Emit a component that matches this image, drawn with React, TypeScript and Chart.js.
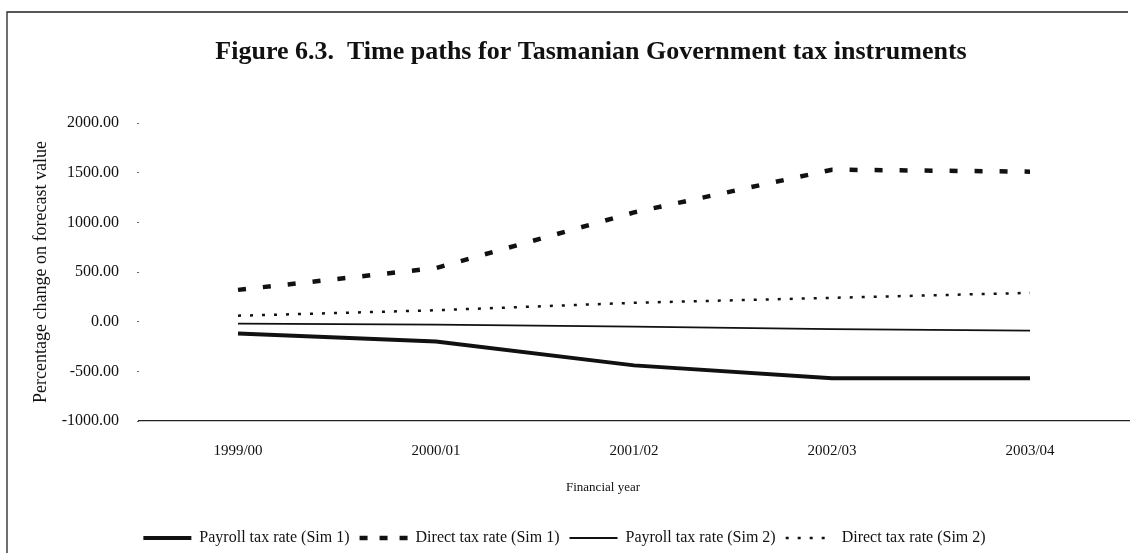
import React, { useEffect, useRef } from 'react';
import { Chart, registerables } from 'chart.js';

Chart.register(...registerables);

// Financial years on the x axis
const years = ['1999/00', '2000/01', '2001/02', '2002/03', '2003/04'];

// Percentage change on forecast value for each tax instrument
const payrollSim1 = [-120, -200, -440, -570, -570];
const directSim1 = [320, 540, 1100, 1530, 1510];
const payrollSim2 = [-20, -30, -50, -75, -90];
const directSim2 = [60, 115, 190, 240, 290];

// Series names shown in the legend
const seriesNames = [
  'Payroll tax rate (Sim 1)',
  'Direct tax rate (Sim 1)',
  'Payroll tax rate (Sim 2)',
  'Direct tax rate (Sim 2)',
];

const yMin = -1000;
const yMax = 2000;
const yStep = 500;

const titleText = 'Figure 6.3.  Time paths for Tasmanian Government tax instruments';
const yTitle = 'Percentage change on forecast value';
const xTitle = 'Financial year';

const SERIF = '"Liberation Serif", "Times New Roman", serif';
const INK = '#111';
const SAMPLE_W = 48;
// Shorter dash period for the short legend sample of the dashed series
const legendDash: Record<number, number[]> = { 1: [8, 12] };

// Page frame, heading and x-axis caption drawn straight onto the canvas
const frameAndHeading = {
  id: 'frameAndHeading',
  beforeDraw(chart: any) {
    const { ctx, width, height } = chart;
    ctx.save();
    ctx.fillStyle = '#fff';
    ctx.fillRect(0, 0, width, height);
    ctx.strokeStyle = '#222';
    ctx.lineWidth = 1.3;
    ctx.beginPath();
    ctx.moveTo(7, height);
    ctx.lineTo(7, 12);
    ctx.lineTo(1128, 12);
    ctx.stroke();
    ctx.fillStyle = INK;
    ctx.textAlign = 'center';
    ctx.textBaseline = 'middle';
    ctx.font = `bold 26px ${SERIF}`;
    ctx.fillText(titleText, 591, 52);
    ctx.font = `13px ${SERIF}`;
    ctx.fillText(xTitle, 603, 488);
    ctx.restore();
  },
};

// Legend line samples, drawn with each dataset's own stroke width and dash
const legendSamples = {
  id: 'legendSamples',
  afterDraw(chart: any) {
    const legend = chart.legend;
    if (!legend || !legend.legendHitBoxes) return;
    const { ctx } = chart;
    legend.legendHitBoxes.forEach((hb: any, i: number) => {
      const ds: any = chart.data.datasets[i];
      const y = hb.top + hb.height / 2;
      ctx.save();
      ctx.strokeStyle = ds.borderColor;
      ctx.lineWidth = ds.borderWidth;
      ctx.setLineDash(legendDash[i] || ds.borderDash || []);
      ctx.beginPath();
      ctx.moveTo(hb.left, y);
      ctx.lineTo(hb.left + SAMPLE_W, y);
      ctx.stroke();
      ctx.restore();
    });
  },
};

export default function App() {
  const canvasRef = useRef<HTMLCanvasElement>(null);

  useEffect(() => {
    const canvas = canvasRef.current;
    if (!canvas) return;
    const chart = new Chart(canvas, {
      type: 'line',
      data: {
        labels: years,
        datasets: [
          {
            label: seriesNames[0],
            data: payrollSim1,
            borderColor: INK,
            backgroundColor: INK,
            borderWidth: 4,
          },
          {
            label: seriesNames[1],
            data: directSim1,
            borderColor: INK,
            backgroundColor: INK,
            borderWidth: 4.5,
            borderDash: [8, 17],
          },
          {
            label: seriesNames[2],
            data: payrollSim2,
            borderColor: INK,
            backgroundColor: INK,
            borderWidth: 1.8,
          },
          {
            label: seriesNames[3],
            data: directSim2,
            borderColor: INK,
            backgroundColor: INK,
            borderWidth: 2.5,
            borderDash: [3, 9],
          },
        ],
      },
      options: {
        animation: false,
        responsive: true,
        maintainAspectRatio: false,
        layout: { padding: { top: 123, right: 15, bottom: -3, left: 0 } },
        elements: {
          point: { radius: 0, hoverRadius: 0 },
          line: { tension: 0, fill: false },
        },
        plugins: {
          title: { display: false },
          tooltip: { enabled: false },
          legend: {
            position: 'bottom',
            labels: {
              boxWidth: SAMPLE_W,
              boxHeight: 4,
              padding: 10,
              color: INK,
              font: { family: SERIF, size: 16 },
              generateLabels: (c: any) =>
                c.data.datasets.map((ds: any, i: number) => ({
                  text: ds.label,
                  fillStyle: 'rgba(0,0,0,0)',
                  strokeStyle: 'rgba(0,0,0,0)',
                  lineWidth: 0,
                  hidden: false,
                  datasetIndex: i,
                  fontColor: INK,
                })),
            },
          },
        },
        scales: {
          x: {
            offset: true,
            grid: { display: false, drawTicks: false },
            border: { display: true, color: '#222', width: 1.3 },
            ticks: { color: INK, padding: 21, font: { family: SERIF, size: 15 } },
            title: { display: false },
            afterFit: (s: any) => {
              s.height = 99;
            },
          },
          y: {
            min: yMin,
            max: yMax,
            grid: {
              display: true,
              drawOnChartArea: false,
              drawTicks: true,
              tickLength: 2,
              tickColor: '#666',
            },
            border: { display: false },
            ticks: {
              stepSize: yStep,
              padding: 18,
              color: INK,
              font: { family: SERIF, size: 16 },
              callback: (v: any) => Number(v).toFixed(2),
            },
            title: {
              display: true,
              text: yTitle,
              color: INK,
              font: { family: SERIF, size: 18 },
              padding: { top: 30, bottom: 0 },
            },
            afterFit: (s: any) => {
              s.width = 139;
            },
          },
        },
      },
      plugins: [frameAndHeading, legendSamples],
    });
    return () => chart.destroy();
  }, []);

  return (
    <div style={{ position: 'fixed', left: 0, top: 0, width: 1144, height: 553, background: '#fff' }}>
      <canvas ref={canvasRef} />
    </div>
  );
}
